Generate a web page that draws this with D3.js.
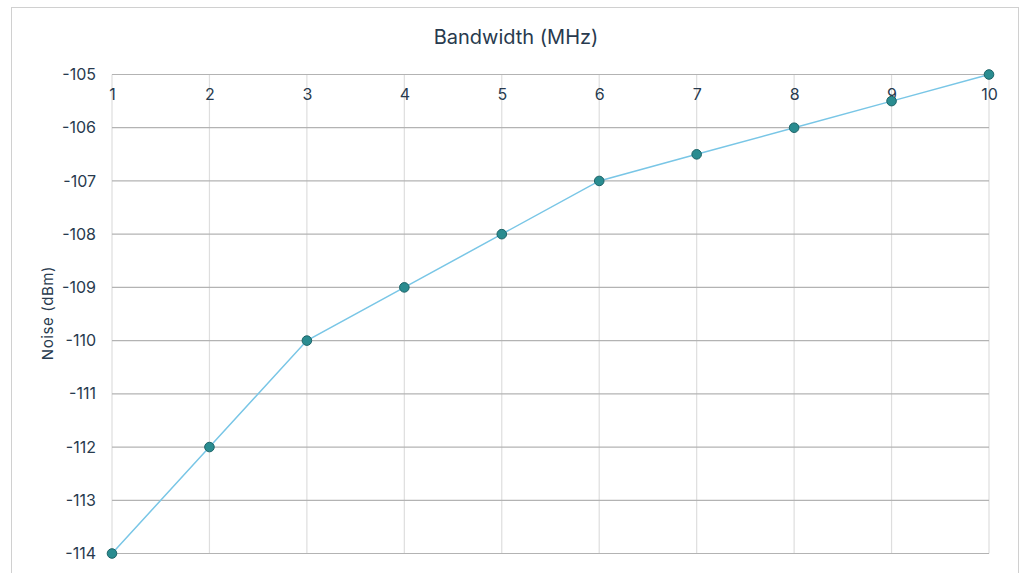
<!DOCTYPE html>
<html>
<head>
<meta charset="utf-8">
<script src="https://cdn.jsdelivr.net/npm/d3@7"></script>
<style>
  html, body { margin: 0; padding: 0; background: #fff; }
  svg { display: block; font-family: Inter, "Noto Sans", sans-serif; }
</style>
</head>
<body>
<svg id="chart" width="1021" height="573"></svg>
<script>
// Bandwidth (MHz) vs. noise floor (dBm)
const bandwidth = [1, 2, 3, 4, 5, 6, 7, 8, 9, 10];
const noise = [-114, -112, -110, -109, -108, -107, -106.5, -106, -105.5, -105];
const yTicks = [-105, -106, -107, -108, -109, -110, -111, -112, -113, -114];

const svg = d3.select("#chart");
const textColor = "#283a4e";

// outer frame
svg.append("rect")
  .attr("x", 11.5).attr("y", 7.5)
  .attr("width", 1007).attr("height", 600)
  .attr("fill", "#fff").attr("stroke", "#d0d0d0").attr("stroke-width", 1);

const x = d3.scaleLinear().domain([1, 10]).range([112, 989]);
const y = d3.scaleLinear().domain([-105, -114]).range([74.5, 553.5]);

// vertical grid
svg.append("g")
  .selectAll("line").data(bandwidth).join("line")
  .attr("x1", d => x(d)).attr("x2", d => x(d))
  .attr("y1", y(-105)).attr("y2", y(-114))
  .attr("stroke", "#dedede").attr("stroke-width", 1.2);

// horizontal grid
svg.append("g")
  .selectAll("line").data(yTicks).join("line")
  .attr("x1", x(1)).attr("x2", x(10))
  .attr("y1", d => y(d)).attr("y2", d => y(d))
  .attr("stroke", "#b3b3b3").attr("stroke-width", 1.2);

// y axis labels
const yAxis = d3.axisLeft(y).tickValues(yTicks).tickSize(0).tickPadding(16).tickFormat(d3.format("d"));
const gy = svg.append("g").attr("transform", `translate(${x(1)},0)`).call(yAxis);
gy.select(".domain").remove();
gy.selectAll("text")
  .attr("fill", textColor).style("font-size", "16px")
  .style("font-family", "Inter, 'Noto Sans', sans-serif")
  .text(d => d < 0 ? "-" + Math.abs(d) : d);

// x axis labels just below top gridline
const xAxis = d3.axisBottom(x).tickValues(bandwidth).tickSize(0).tickPadding(14);
const gx = svg.append("g").attr("transform", `translate(0,${y(-105)})`).call(xAxis);
gx.select(".domain").remove();
gx.selectAll("text")
  .attr("fill", textColor).style("font-size", "16px")
  .style("font-family", "Inter, 'Noto Sans', sans-serif");

// line
const line = d3.line().x((d, i) => x(bandwidth[i])).y(d => y(d));
svg.append("path")
  .datum(noise)
  .attr("d", line)
  .attr("fill", "none")
  .attr("stroke", "#79c6e6")
  .attr("stroke-width", 1.5);

// markers
svg.append("g")
  .selectAll("circle").data(noise).join("circle")
  .attr("cx", (d, i) => x(bandwidth[i]))
  .attr("cy", d => y(d))
  .attr("r", 4.8)
  .attr("fill", "#2a8c90")
  .attr("stroke", "#1d6468")
  .attr("stroke-width", 1);

// title
svg.append("text")
  .attr("x", 516).attr("y", 44)
  .attr("text-anchor", "middle")
  .attr("fill", textColor)
  .style("font-size", "20px")
  .text("Bandwidth (MHz)");

// y axis title
svg.append("text")
  .attr("transform", "translate(53,313) rotate(-90)")
  .attr("text-anchor", "middle")
  .attr("fill", textColor)
  .style("font-size", "15px")
  .style("letter-spacing", "0.6px")
  .text("Noise (dBm)");
</script>
</body>
</html>
